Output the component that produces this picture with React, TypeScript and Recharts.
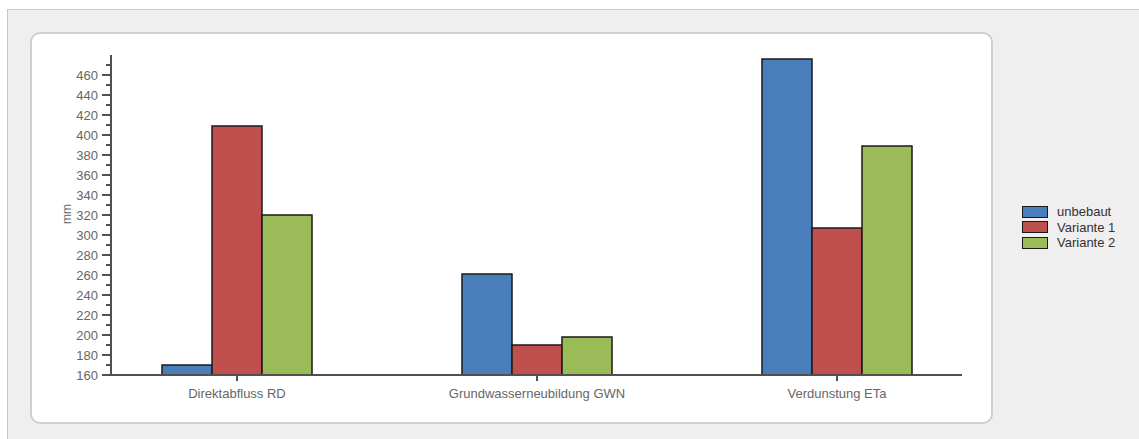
import { BarChart, Bar, XAxis, YAxis } from 'recharts'

const categories = ['Direktabfluss RD', 'Grundwasserneubildung GWN', 'Verdunstung ETa']
const unbebaut = [170, 261, 476]
const variante1 = [409, 190, 307]
const variante2 = [320, 198, 389]
const yTicks = [160, 170, 180, 190, 200, 210, 220, 230, 240, 250, 260, 270, 280, 290, 300, 310, 320, 330, 340, 350, 360, 370, 380, 390, 400, 410, 420, 430, 440, 450, 460, 470]

const series = [
  { key: 'unbebaut', name: 'unbebaut', color: '#4a7ebb' },
  { key: 'v1', name: 'Variante 1', color: '#c0504d' },
  { key: 'v2', name: 'Variante 2', color: '#9bbb59' },
]

const data = categories.map((c, i) => ({ name: c, unbebaut: unbebaut[i], v1: variante1[i], v2: variante2[i] }))

const font = '"Liberation Sans", Arial, sans-serif'
const textColor = '#666'
const axisColor = '#505050'

function YTick(props: any) {
  const { x, y, payload } = props
  const major = payload.value % 20 === 0
  return (
    <g>
      <line x1={x - (major ? 9 : 5)} x2={x + 1} y1={y} y2={y} stroke={axisColor} strokeWidth={2} />
      {major && (
        <text x={x - 13} y={y + 4.5} textAnchor="end" fontSize={13} fill={textColor} fontFamily={font}>
          {payload.value}
        </text>
      )}
    </g>
  )
}

function XTick(props: any) {
  const { x, y, payload } = props
  return (
    <g>
      <line x1={x} x2={x} y1={y} y2={y + 6} stroke={axisColor} strokeWidth={2} />
      <text x={x} y={y + 23} textAnchor="middle" fontSize={13} fill={textColor} fontFamily={font}>
        {payload.value}
      </text>
    </g>
  )
}

export default function App() {
  return (
    <div style={{ position: 'absolute', left: 0, top: 0, width: 1139, height: 439, background: '#fff', overflow: 'hidden' }}>
      <div style={{ position: 'absolute', left: 7, top: 9, right: 0, bottom: 0, background: '#efefef', borderTop: '1px solid #c8c8c8', borderLeft: '1px solid #c8c8c8' }} />
      <div style={{ position: 'absolute', left: 30, top: 32, width: 959, height: 388, background: '#fff', border: '2px solid #cfcfcf', borderRadius: 10 }} />
      <div style={{ position: 'absolute', left: 0, top: 0 }}>
        <BarChart
          width={1139}
          height={439}
          data={data}
          margin={{ top: 55, right: 177, bottom: 34, left: 51 }}
          barCategoryGap="25%"
          barGap={0}
        >
          <XAxis
            dataKey="name"
            height={30}
            padding={{ left: -24, right: -25 }}
            tickSize={0}
            tickMargin={0}
            tick={<XTick />}
            axisLine={{ stroke: axisColor, strokeWidth: 2 }}
            interval={0}
          />
          <YAxis
            width={60}
            domain={[160, 480]}
            ticks={yTicks}
            allowDataOverflow
            interval={0}
            tickSize={0}
            tickMargin={0}
            tick={<YTick />}
            axisLine={{ stroke: axisColor, strokeWidth: 2 }}
          />
          {series.map(s => (
            <Bar key={s.key} dataKey={s.key} name={s.name} fill={s.color} stroke="#1a1a1a" strokeWidth={1.5} isAnimationActive={false} />
          ))}
        </BarChart>
      </div>
      <div style={{ position: 'absolute', left: 67, top: 214, transform: 'translate(-50%, -50%) rotate(-90deg)', fontFamily: font, fontSize: 12, color: textColor }}>mm</div>
      <div style={{ position: 'absolute', left: 1022, top: 204, fontFamily: font, fontSize: 13, color: '#333' }}>
        {series.map(s => (
          <div key={s.key} style={{ display: 'flex', alignItems: 'center', height: 15.5 }}>
            <span style={{ display: 'inline-block', width: 24, height: 10, background: s.color, border: '1px solid #1a1a1a', marginRight: 9 }} />
            <span>{s.name}</span>
          </div>
        ))}
      </div>
    </div>
  )
}
